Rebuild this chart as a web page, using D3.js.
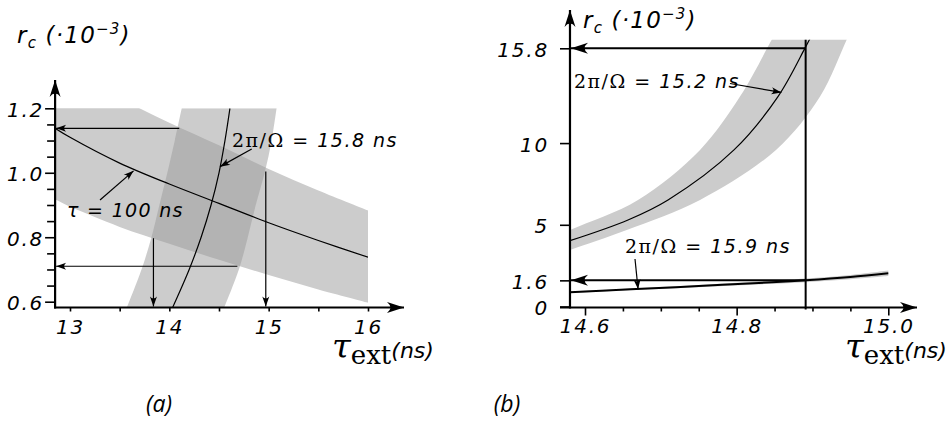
<!DOCTYPE html>
<html><head><meta charset="utf-8">
<script src="https://cdn.jsdelivr.net/npm/d3@7"></script>
<style>
html,body{margin:0;padding:0;background:#fff;}
svg{display:block;}
.tk text{font-family:"DejaVu Sans";font-style:italic;font-size:20px;letter-spacing:1.8px;fill:#000;}
.tk line{stroke:#000;stroke-width:1.6px;}
</style></head><body>
<svg id="c" width="947" height="421"></svg>
<script>
// ---------- Panel (a) data ----------
const aXTicks = [13, 14, 15, 16];
const aXMinor = [13.5, 14.5, 15.5];
const aYTicks = [0.6, 0.8, 1.0, 1.2];
const aYMinor = [0.65, 0.7, 0.75, 0.85, 0.9, 0.95, 1.05, 1.1, 1.15];
// band "tau = 100 ns" (r vs tau_ext)
const b1Tau    = [12.85, 13.0, 13.5, 14.0, 14.5, 15.0, 15.5, 16.0];
const b1Center = [1.138, 1.11, 1.03, 0.965, 0.905, 0.845, 0.79, 0.738];
const b1Upper  = [1.354, 1.32, 1.232, 1.155, 1.085, 1.012, 0.945, 0.883];
const b1Lower  = [0.918, 0.895, 0.832, 0.78, 0.73, 0.683, 0.638, 0.597];
// band "2pi/Omega = 15.8 ns" (tau_ext vs r)
const b2R      = [0.58, 0.7, 0.8, 0.9, 1.0, 1.1, 1.2];
const b2Left   = [13.57, 13.72, 13.82, 13.90, 13.98, 14.055, 14.125];
const b2Center = [14.03, 14.2, 14.32, 14.42, 14.5, 14.56, 14.61];
const b2Right  = [14.55, 14.70, 14.79, 14.87, 14.96, 15.03, 15.08];

// ---------- Panel (b) data ----------
const bXTicks = [14.6, 14.8, 15.0];
const bXLabels = ["14.6", "14.8", "15.0"];
const bXMinor = [14.65, 14.7, 14.75, 14.85, 14.9, 14.95];
const bYTicks = [0, 1.6, 5, 10, 15.8];
const bYLabels = ["0", "1.6", "5", "10", "15.8"];
// band "2pi/Omega = 15.2 ns"
const c1LeftTau  = [14.517, 14.5802, 14.6699, 14.7517, 14.8044, 14.8462, 14.860];
const c1LeftR    = [3.4, 4.685, 6.522, 9.584, 12.847, 16.32, 17.5];
const c1RightTau = [14.54, 14.5802, 14.655, 14.7517, 14.8519, 14.910, 14.9451, 14.957];
const c1RightR   = [2.8, 3.46, 4.685, 6.522, 9.584, 12.847, 16.32, 17.5];
const c1CTau     = [14.5802, 14.6567, 14.7095, 14.7965, 14.8545, 14.8901, 14.899];
const c1CR       = [4.029, 5.297, 6.522, 9.584, 12.847, 15.811, 16.6];
// band "2pi/Omega = 15.9 ns"
const c2Tau    = [14.5802, 14.66, 14.75, 14.84, 14.891, 14.95, 15.0];
const c2Center = [0.87, 1.05, 1.25, 1.47, 1.6, 1.8, 2.03];
const c2Upper  = [0.92, 1.1, 1.32, 1.57, 1.71, 1.93, 2.2];
const c2Lower  = [0.82, 0.99, 1.18, 1.37, 1.49, 1.67, 1.86];
// read-off markers
const aReadH = [{r: 1.138, from: 14.1}, {r: 0.71, from: 14.685}];
const aReadV = [{t: 13.84, from: 0.797}, {t: 14.971, from: 1.004}];
const bReadT = 14.891, bReadR = [15.8, 1.6];

const svg = d3.select("#c");
const defs = svg.append("defs");
function mk(id, L, W) {
  defs.append("marker").attr("id", id).attr("markerUnits", "userSpaceOnUse")
    .attr("markerWidth", L + 2).attr("markerHeight", W + 2)
    .attr("viewBox", `${-L - 1} ${-W / 2 - 1} ${L + 2} ${W + 2}`)
    .attr("refX", 0).attr("refY", 0).attr("orient", "auto")
    .append("path").attr("d", `M0,0 L${-L},${-W / 2} Q${-0.6 * L},0 ${-L},${W / 2} Z`).attr("fill", "#000");
}
mk("aS", 10, 7); mk("aL", 17, 11);

const GRAY = "#cccccc";
const curve = d3.curveCatmullRom.alpha(0.5);

// ================= Panel (a) =================
const xa = d3.scaleLinear().domain([13, 16]).range([70, 368]);
const ya = d3.scaleLinear().domain([0.6, 1.2]).range([301.7, 108.3]);
const aAxisY = 307.5, aAxisX = xa(12.85);
const A = svg.append("g");
defs.append("clipPath").attr("id", "clipA").append("rect")
  .attr("x", aAxisX).attr("y", ya(1.2)).attr("width", xa(16) - aAxisX).attr("height", aAxisY - ya(1.2));
const Ac = A.append("g").attr("clip-path", "url(#clipA)");
const d1 = b1Tau.map((t, i) => ({t, c: b1Center[i], u: b1Upper[i], l: b1Lower[i]}));
Ac.append("path").datum(d1).attr("fill", GRAY)
  .attr("d", d3.area().curve(curve).x(d => xa(d.t)).y0(d => ya(d.l)).y1(d => ya(d.u)));
const d2 = b2R.map((r, i) => ({r, l: b2Left[i], c: b2Center[i], rt: b2Right[i]}));
Ac.append("path").datum(d2).attr("fill", "#9b9b9b").attr("fill-opacity", 0.51)
  .attr("d", d3.area().curve(curve).y(d => ya(d.r)).x0(d => xa(d.l)).x1(d => xa(d.rt)));
Ac.append("path").datum(d1).attr("fill", "none").attr("stroke", "#000").attr("stroke-width", 1.2)
  .attr("d", d3.line().curve(curve).x(d => xa(d.t)).y(d => ya(d.c)));
Ac.append("path").datum(d2).attr("fill", "none").attr("stroke", "#000").attr("stroke-width", 1.2)
  .attr("d", d3.line().curve(curve).x(d => xa(d.c)).y(d => ya(d.r)));
aReadH.forEach(h => A.append("line").attr("x1", xa(h.from)).attr("x2", aAxisX + 1).attr("y1", ya(h.r)).attr("y2", ya(h.r))
  .attr("stroke", "#000").attr("stroke-width", 1.2).attr("marker-end", "url(#aS)"));
aReadV.forEach(v => A.append("line").attr("x1", xa(v.t)).attr("x2", xa(v.t)).attr("y1", ya(v.from)).attr("y2", aAxisY - 1)
  .attr("stroke", "#000").attr("stroke-width", 1.2).attr("marker-end", "url(#aS)"));
// axes (a)
A.append("g").attr("class", "tk").attr("transform", `translate(${aAxisX},0)`)
  .call(d3.axisLeft(ya).tickValues(aYMinor).tickSize(8).tickFormat(""));
const ayMaj = A.append("g").attr("class", "tk").attr("transform", `translate(${aAxisX},0)`)
  .call(d3.axisLeft(ya).tickValues(aYTicks).tickSize(10).tickPadding(1).tickFormat(d3.format(".1f")));
A.append("g").attr("class", "tk").attr("transform", `translate(0,${aAxisY})`)
  .call(d3.axisBottom(xa).tickValues(aXMinor).tickSize(4).tickFormat(""));
A.append("g").attr("class", "tk").attr("transform", `translate(0,${aAxisY})`)
  .call(d3.axisBottom(xa).tickValues(aXTicks).tickSize(4).tickPadding(8).tickFormat(d3.format("d")));
A.selectAll(".domain").remove();
ayMaj.selectAll("text").attr("dy", "0.4em");
A.append("line").attr("x1", aAxisX).attr("x2", aAxisX).attr("y1", aAxisY + 1).attr("y2", 80)
  .attr("stroke", "#000").attr("stroke-width", 2.2).attr("marker-end", "url(#aL)");
A.append("line").attr("x1", aAxisX - 1).attr("x2", 404).attr("y1", aAxisY).attr("y2", aAxisY)
  .attr("stroke", "#000").attr("stroke-width", 2.2).attr("marker-end", "url(#aL)");

// ================= Panel (b) =================
const xb = d3.scaleLinear().domain([14.6, 15.0]).range([585, 888.3]);
const yb = d3.scaleLinear().domain([0, 15.8]).range([306.5, 48.3]);
const bAxisY = 307.5, bAxisX = xb(14.5802);
const B = svg.append("g");
defs.append("clipPath").attr("id", "clipB").append("rect")
  .attr("x", bAxisX).attr("y", yb(16.32)).attr("width", 400).attr("height", bAxisY - yb(16.32));
const Bc = B.append("g").attr("clip-path", "url(#clipB)");
const lineB = d3.line().curve(curve).x(d => xb(d[0])).y(d => yb(d[1]));
const leftPts = c1LeftTau.map((t, i) => [t, c1LeftR[i]]);
const rightPts = c1RightTau.map((t, i) => [t, c1RightR[i]]).reverse();
Bc.append("path").attr("fill", GRAY)
  .attr("d", lineB(leftPts) + "L" + lineB(rightPts).slice(1) + "Z");
const e2 = c2Tau.map((t, i) => ({t, c: c2Center[i], u: c2Upper[i], l: c2Lower[i]}));
Bc.append("path").datum(e2).attr("fill", GRAY)
  .attr("d", d3.area().curve(curve).x(d => xb(d.t)).y0(d => yb(d.l)).y1(d => yb(d.u)));
Bc.append("path").attr("fill", "none").attr("stroke", "#000").attr("stroke-width", 1.2)
  .attr("d", lineB(c1CTau.map((t, i) => [t, c1CR[i]])));
Bc.append("path").datum(e2).attr("fill", "none").attr("stroke", "#000").attr("stroke-width", 2)
  .attr("d", d3.line().curve(curve).x(d => xb(d.t)).y(d => yb(d.c)));
B.append("line").attr("x1", xb(bReadT)).attr("x2", xb(bReadT)).attr("y1", yb(16.32)).attr("y2", bAxisY + 2)
  .attr("stroke", "#000").attr("stroke-width", 2);
bReadR.forEach(r => B.append("line").attr("x1", xb(bReadT)).attr("x2", bAxisX + 1).attr("y1", yb(r)).attr("y2", yb(r))
  .attr("stroke", "#000").attr("stroke-width", 2).attr("marker-end", "url(#aL)"));
// axes (b)
const byMaj = B.append("g").attr("class", "tk").attr("transform", `translate(${bAxisX},0)`)
  .call(d3.axisLeft(yb).tickValues(bYTicks).tickSize(10).tickPadding(11).tickFormat((d, i) => bYLabels[i]));
byMaj.selectAll("text").attr("dy", "0.4em");
B.append("g").attr("class", "tk").attr("transform", `translate(0,${bAxisY})`)
  .call(d3.axisBottom(xb).tickValues(bXMinor).tickSize(4).tickFormat(""));
B.append("g").attr("class", "tk").attr("transform", `translate(0,${bAxisY})`)
  .call(d3.axisBottom(xb).tickValues(bXTicks).tickSize(8).tickPadding(3).tickFormat((d, i) => bXLabels[i]));
B.selectAll(".domain").remove();
B.append("line").attr("x1", bAxisX).attr("x2", bAxisX).attr("y1", bAxisY + 1).attr("y2", 10)
  .attr("stroke", "#000").attr("stroke-width", 2.2).attr("marker-end", "url(#aL)");
B.append("line").attr("x1", 560).attr("x2", 917).attr("y1", bAxisY).attr("y2", bAxisY)
  .attr("stroke", "#000").attr("stroke-width", 2.2).attr("marker-end", "url(#aL)");

// ================= Texts =================
const SANS = "DejaVu Sans", SERIF = "DejaVu Serif";
function txt(x, y, parts, size) {
  const t = svg.append("text").attr("x", x).attr("y", y).attr("font-size", size).attr("fill", "#000");
  parts.forEach(p => {
    const s = t.append("tspan").text(p.t)
      .attr("font-family", p.f || SANS).attr("font-style", p.s || "italic");
    if (p.z) s.attr("font-size", p.z);
    if (p.dy) s.attr("dy", p.dy);
    if (p.ls !== undefined) s.attr("letter-spacing", p.ls);
  });
  return t;
}
function ylab(x, y) {
  return txt(x, y, [{t: "r"}, {t: "c", z: 15, dy: 5}, {t: " (·10", dy: -5}, {t: "−3", z: 15, dy: -9}, {t: ")", dy: 9}], 23)
    .attr("letter-spacing", 1.2);
}
ylab(17, 43); ylab(583, 28);
function xlab(x, y) {
  return txt(x, y, [{t: "τ", f: SERIF, z: 34, ls: 0}, {t: "ext", f: SERIF, s: "normal", z: 26, dy: 6, ls: 0}, {t: "(ns)", z: 22, dy: -6}], 22);
}
xlab(332, 358); xlab(845, 358);
function omega(x, y, val) {
  return txt(x, y, [{t: "2π/Ω", f: SERIF, s: "normal"}, {t: " = " + val + " ns"}], 19).attr("letter-spacing", 1.5);
}
omega(232, 147, "15.8");
omega(574, 88, "15.2");
omega(625, 253, "15.9");
txt(67, 217, [{t: "τ = 100 ns"}], 19).attr("letter-spacing", 1.3);
// leaders
function leader(x1, y1, x2, y2) {
  svg.append("line").attr("x1", x1).attr("y1", y1).attr("x2", x2).attr("y2", y2)
    .attr("stroke", "#000").attr("stroke-width", 1.2).attr("marker-end", "url(#aS)");
}
leader(251.7, 149, xa(14.51), ya(1.019));
leader(100, 200, xa(13.64), ya(1.006));
leader(730, 83.5, xb(14.859), yb(13.1));
leader(635, 259, xb(14.67), yb(1.05));
// panel captions
svg.append("text").attr("x", 159).attr("y", 412).attr("text-anchor", "middle")
  .attr("font-family", "Open Sans").attr("font-style", "italic").attr("font-size", 23).text("(a)");
svg.append("text").attr("x", 507).attr("y", 412).attr("text-anchor", "middle")
  .attr("font-family", "Open Sans").attr("font-style", "italic").attr("font-size", 23).text("(b)");
</script>
</body></html>
